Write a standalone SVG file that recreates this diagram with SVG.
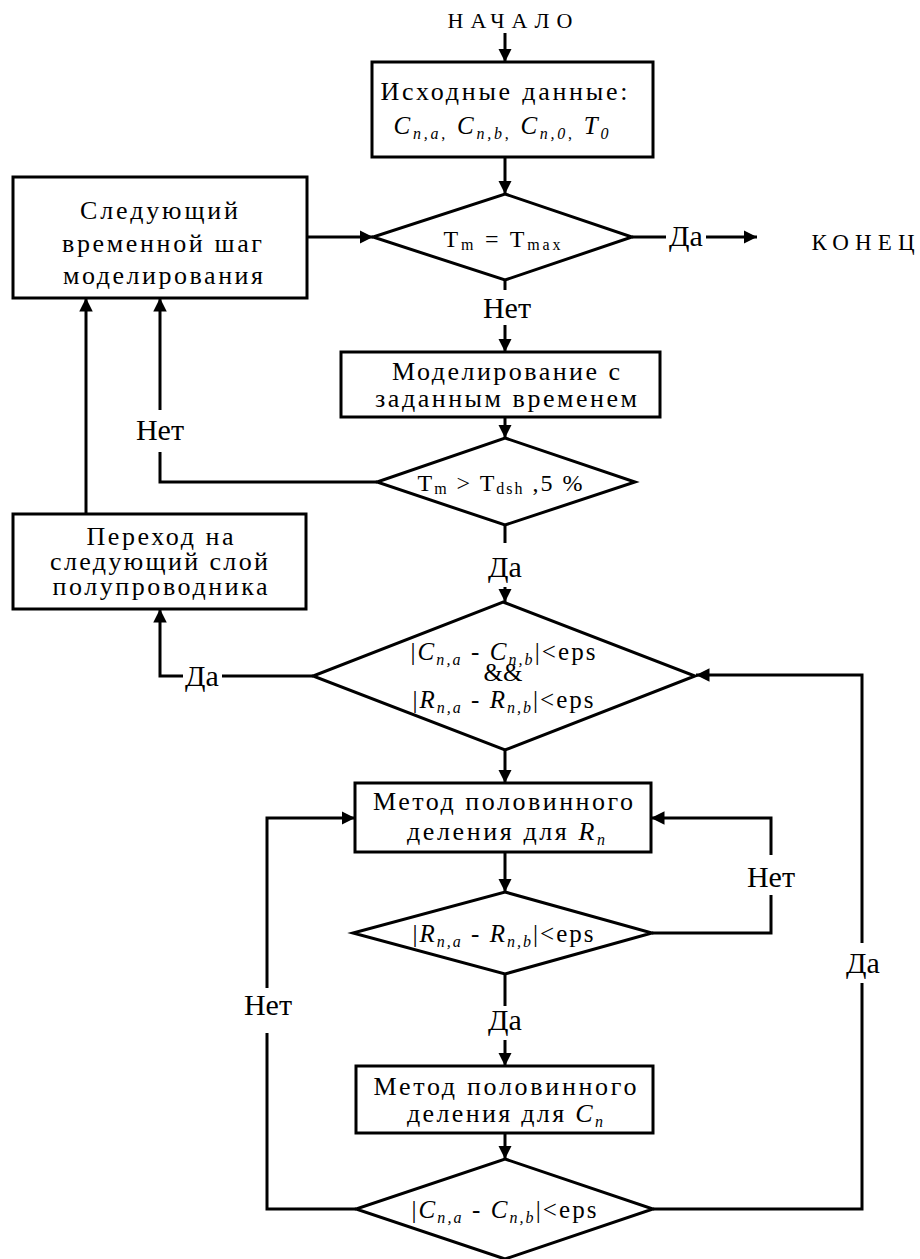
<svg xmlns="http://www.w3.org/2000/svg" width="920" height="1259" viewBox="0 0 920 1259">
<defs>
<marker id="a" viewBox="0 0 10 10" refX="10" refY="5" markerWidth="4.5" markerHeight="4.5" orient="auto" markerUnits="strokeWidth">
<path d="M0,0L10,5L0,10z" fill="#000"/>
</marker>
</defs>
<rect width="920" height="1259" fill="#fff"/>
<g id="connectors" fill="none" stroke="#000" stroke-width="3">
<path d="M505,33V62" marker-end="url(#a)"/>
<path d="M505,157V194" marker-end="url(#a)"/>
<path d="M632,237H666"/>
<path d="M706,237H757" marker-end="url(#a)"/>
<path d="M307,237H373" marker-end="url(#a)"/>
<path d="M505,280V290"/>
<path d="M505,325V352" marker-end="url(#a)"/>
<path d="M505,417V438" marker-end="url(#a)"/>
<path d="M377,482H160V452"/>
<path d="M160,410V298" marker-end="url(#a)"/>
<path d="M505,525V543"/>
<path d="M505,587V602" marker-end="url(#a)"/>
<path d="M313,676H222"/>
<path d="M183,676H160V609" marker-end="url(#a)"/>
<path d="M86,514V298" marker-end="url(#a)"/>
<path d="M505,750V783" marker-end="url(#a)"/>
<path d="M505,852V892" marker-end="url(#a)"/>
<path d="M652,933H771V895"/>
<path d="M771,855V818H651" marker-end="url(#a)"/>
<path d="M505,974V1006"/>
<path d="M505,1040V1066" marker-end="url(#a)"/>
<path d="M505,1133V1159" marker-end="url(#a)"/>
<path d="M356,1209H267V1033"/>
<path d="M267,988V818H355" marker-end="url(#a)"/>
<path d="M653,1209H862V983"/>
<path d="M862,943V675H696" marker-end="url(#a)"/>
</g>
<g id="labels" font-family="Liberation Serif" font-size="30" text-anchor="middle" fill="#000">
<text x="686" y="246">Да</text>
<text x="507" y="318">Нет</text>
<text x="160" y="440">Нет</text>
<text x="505" y="577">Да</text>
<text x="202" y="686">Да</text>
<text x="771" y="887">Нет</text>
<text x="863" y="973">Да</text>
<text x="505" y="1030">Да</text>
<text x="268" y="1015">Нет</text>
</g>
<g font-family="Liberation Serif" font-size="26" text-anchor="middle" fill="#000">
<g id="start"><text x="510" y="28" font-size="22" textLength="125" lengthAdjust="spacing">НАЧАЛО</text></g>
<g id="end"><text x="863" y="250" font-size="23" textLength="103" lengthAdjust="spacing">КОНЕЦ</text></g>
<g id="input">
<rect x="372" y="62" width="281" height="95" fill="#fff" stroke="#000" stroke-width="3"/>
<text x="504" y="100" textLength="247" lengthAdjust="spacing">Исходные данные:</text>
<text x="501" y="134" font-size="25" textLength="215" lengthAdjust="spacing"><tspan font-style="italic">C</tspan><tspan font-size="16" font-style="italic" dy="5">n,a</tspan><tspan font-size="16">,</tspan><tspan dy="-5"> </tspan><tspan font-style="italic">C</tspan><tspan font-size="16" font-style="italic" dy="5">n,b</tspan><tspan font-size="16">,</tspan><tspan dy="-5"> </tspan><tspan font-style="italic">C</tspan><tspan font-size="16" font-style="italic" dy="5">n,0</tspan><tspan font-size="16">,</tspan><tspan dy="-5"> </tspan><tspan font-style="italic">T</tspan><tspan font-size="16" font-style="italic" dy="5">0</tspan></text>
</g>
<g id="next-step">
<rect x="13" y="177" width="294" height="121" fill="#fff" stroke="#000" stroke-width="3"/>
<text x="159" y="219" textLength="158" lengthAdjust="spacing">Следующий</text>
<text x="162" y="252" textLength="200" lengthAdjust="spacing">временной шаг</text>
<text x="163" y="284" textLength="200" lengthAdjust="spacing">моделирования</text>
</g>
<g id="d-tmax" font-size="24">
<polygon points="505,194 632,237 505,280 373,237" fill="#fff" stroke="#000" stroke-width="3"/>
<text x="502" y="247" textLength="117" lengthAdjust="spacing">T<tspan font-size="16" dy="3">m</tspan><tspan dy="-3"> = T</tspan><tspan font-size="16" dy="3">max</tspan></text>
</g>
<g id="simulate">
<rect x="341" y="352" width="319" height="65" fill="#fff" stroke="#000" stroke-width="3"/>
<text x="506" y="380" textLength="228" lengthAdjust="spacing">Моделирование с</text>
<text x="506" y="407" textLength="262" lengthAdjust="spacing">заданным временем</text>
</g>
<g id="d-tdsh" font-size="24">
<polygon points="505,438 635,482 505,525 377,482" fill="#fff" stroke="#000" stroke-width="3"/>
<text x="500" y="491" textLength="165" lengthAdjust="spacing">T<tspan font-size="16" dy="3">m</tspan><tspan dy="-3"> &gt; T</tspan><tspan font-size="16" dy="3">dsh</tspan><tspan dy="-3"> ,5 %</tspan></text>
</g>
<g id="next-layer">
<rect x="13" y="514" width="293" height="95" fill="#fff" stroke="#000" stroke-width="3"/>
<text x="160" y="545" textLength="147" lengthAdjust="spacing">Переход на</text>
<text x="159" y="570" textLength="218" lengthAdjust="spacing">следующий слой</text>
<text x="160" y="595" textLength="215" lengthAdjust="spacing">полупроводника</text>
</g>
<g id="d-both" font-size="25">
<polygon points="503,602 695,676 505,750 313,676" fill="#fff" stroke="#000" stroke-width="3"/>
<text x="503" y="660" textLength="185" lengthAdjust="spacing">|<tspan font-style="italic">C</tspan><tspan font-size="16" font-style="italic" dy="5">n,a</tspan><tspan dy="-5"> - </tspan><tspan font-style="italic">C</tspan><tspan font-size="16" font-style="italic" dy="5">n,b</tspan><tspan dy="-5">|&lt;eps</tspan></text>
<text x="503" y="681">&amp;&amp;</text>
<text x="503" y="708" textLength="181" lengthAdjust="spacing">|<tspan font-style="italic">R</tspan><tspan font-size="16" font-style="italic" dy="5">n,a</tspan><tspan dy="-5"> - </tspan><tspan font-style="italic">R</tspan><tspan font-size="16" font-style="italic" dy="5">n,b</tspan><tspan dy="-5">|&lt;eps</tspan></text>
</g>
<g id="bisect-r">
<rect x="355" y="783" width="296" height="69" fill="#fff" stroke="#000" stroke-width="3"/>
<text x="503" y="810" textLength="260" lengthAdjust="spacing">Метод половинного</text>
<text x="506" y="840" textLength="198" lengthAdjust="spacing">деления для <tspan font-style="italic">R</tspan><tspan font-size="16" font-style="italic" dy="5">n</tspan></text>
</g>
<g id="d-r" font-size="25">
<polygon points="505,892 652,933 505,974 353,933" fill="#fff" stroke="#000" stroke-width="3"/>
<text x="503" y="942" textLength="181" lengthAdjust="spacing">|<tspan font-style="italic">R</tspan><tspan font-size="16" font-style="italic" dy="5">n,a</tspan><tspan dy="-5"> - </tspan><tspan font-style="italic">R</tspan><tspan font-size="16" font-style="italic" dy="5">n,b</tspan><tspan dy="-5">|&lt;eps</tspan></text>
</g>
<g id="bisect-c">
<rect x="356" y="1066" width="297" height="67" fill="#fff" stroke="#000" stroke-width="3"/>
<text x="505" y="1095" textLength="263" lengthAdjust="spacing">Метод половинного</text>
<text x="505" y="1122" textLength="196" lengthAdjust="spacing">деления для <tspan font-style="italic">C</tspan><tspan font-size="16" font-style="italic" dy="5">n</tspan></text>
</g>
<g id="d-c" font-size="25">
<polygon points="505,1159 653,1209 505,1259 356,1209" fill="#fff" stroke="#000" stroke-width="3"/>
<text x="504" y="1218" textLength="185" lengthAdjust="spacing">|<tspan font-style="italic">C</tspan><tspan font-size="16" font-style="italic" dy="5">n,a</tspan><tspan dy="-5"> - </tspan><tspan font-style="italic">C</tspan><tspan font-size="16" font-style="italic" dy="5">n,b</tspan><tspan dy="-5">|&lt;eps</tspan></text>
</g>
</g>
</svg>
